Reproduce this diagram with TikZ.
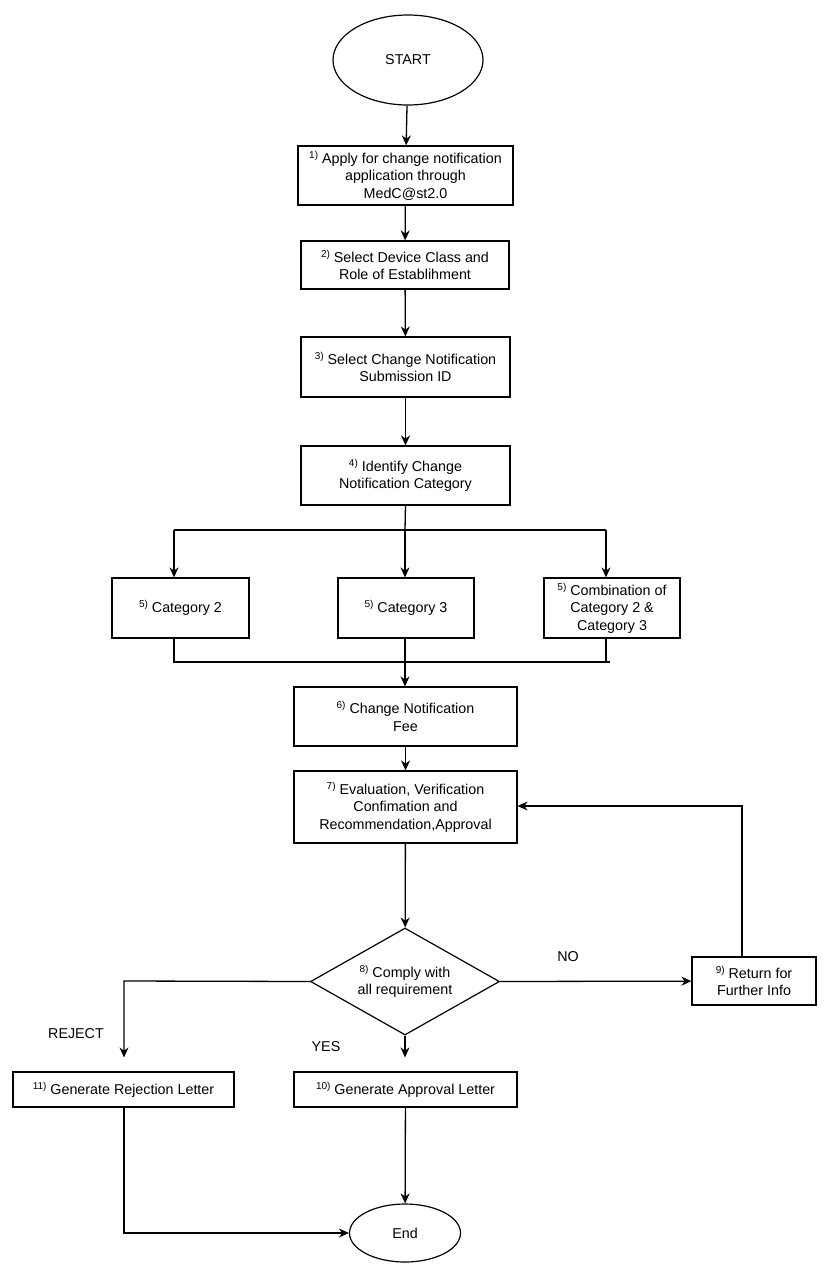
\documentclass[tikz,border=0pt]{standalone}
\usepackage{fontspec}
\setmainfont{Liberation Sans}
\usetikzlibrary{arrows.meta, positioning, shapes.geometric, calc}
\newcommand{\stepno}[1]{\raisebox{5pt}{\fontsize{10}{10}\selectfont #1)}~}

\begin{document}
\begin{tikzpicture}[
        x=1pt, y=-1pt,
        every node/.style={font=\fontsize{14.3}{17.5}\selectfont},
        proc/.style={rectangle, draw, line width=1.2pt, align=center,
                     inner sep=2pt},
        term/.style={ellipse, draw, line width=1.2pt, inner sep=0pt},
        decide/.style={diamond, draw, line width=1.2pt, align=center,
                       inner sep=0pt, aspect=1.77},
        lbl/.style={inner sep=0pt},
        link/.style={line width=1.3pt},
        arr/.style={link, -{Stealth[length=10pt, width=9pt]}},
      ]
        \useasboundingbox (0,0) rectangle (829,1277);

        \node[term, minimum width=150pt, minimum height=90pt] (start) at (408,60) {START};
        \node[proc, minimum width=215pt, minimum height=59pt] (b1) at (405.5,175.5)
          {\stepno{1}Apply for change notification\\application through\\MedC@st2.0};
        \node[proc, minimum width=208pt, minimum height=48pt] (b2) at (405,265)
          {\stepno{2}Select Device Class and\\Role of Establihment};
        \node[proc, minimum width=209pt, minimum height=60pt] (b3) at (405.5,367)
          {\stepno{3}Select Change Notification\\Submission ID};
        \node[proc, minimum width=209pt, minimum height=59pt] (b4) at (405.5,475.5)
          {\stepno{4}Identify Change\\Notification Category};

        \node[proc, minimum width=137pt, minimum height=60pt] (cat2) at (180.5,608)
          {\stepno{5}Category 2};
        \node[proc, minimum width=136pt, minimum height=60pt] (cat3) at (406,608)
          {\stepno{5}Category 3};
        \node[proc, minimum width=136pt, minimum height=60pt] (comb) at (612,608)
          {\stepno{5}Combination of\\Category 2 \&\\Category 3};

        \node[proc, minimum width=223pt, minimum height=59pt] (b6) at (405.5,716.5)
          {\stepno{6}Change Notification\\Fee};
        \node[proc, minimum width=223pt, minimum height=72pt] (b7) at (405.5,807)
          {\stepno{7}Evaluation, Verification\\Confimation and\\Recommendation,Approval};
        \node[decide, minimum width=189pt, minimum height=107pt] (dec) at (405,981.5)
          {\stepno{8}Comply with\\all requirement};
        \node[proc, minimum width=124pt, minimum height=48pt] (b9) at (754,981)
          {\stepno{9}Return for\\Further Info};
        \node[proc, minimum width=221pt, minimum height=35pt] (b11) at (123.5,1089.5)
          {\stepno{11}Generate Rejection Letter};
        \node[proc, minimum width=223pt, minimum height=35pt] (b10) at (405.5,1089.5)
          {\stepno{10}Generate Approval Letter};
        \node[term, minimum width=111pt, minimum height=58pt] (end) at (405,1233) {End};

        \node[lbl] (no)     at (568,957)  {NO};
        \node[lbl] (yes)    at (326,1047) {YES};
        \node[lbl] (reject) at (76,1034)  {REJECT};

        % branch points
        \coordinate (split)  at (405,530);
        \coordinate (splitL) at (174,530);
        \coordinate (splitR) at (606,530);
        \coordinate (joinL)  at (174,662);
        \coordinate (joinR)  at (610,662);
        \coordinate (ret)    at (742,806);
        \coordinate (rej)    at (124,981);

        \draw[arr] (start) -- (b1);
        \draw[arr] (b1) -- (b2);
        \draw[arr] (b2) -- (b3);
        \draw[arr] (b3) -- (b4);

        \draw[link] (b4.south) -- (split);
        \draw[link] (splitL) -- (splitR);
        \draw[arr] (splitL) -- (splitL |- cat2.north);
        \draw[arr] (split) -- (split |- cat3.north);
        \draw[arr] (splitR) -- (splitR |- comb.north);

        \draw[link] (joinL |- cat2.south) -- (joinL) -- (joinR);
        \draw[link] (splitR |- comb.south) -- (splitR |- joinR);
        \draw[arr] (cat3.south -| split) -- (split |- b6.north);

        \draw[arr] (b6) -- (b7);
        \draw[arr] (b7) -- (dec);
        \draw[arr] (dec.east) -- (b9);
        \draw[arr] (ret |- b9.north) -- (ret) -- (b7.east |- ret);
        \draw[arr, shorten >=14pt] (dec.west) -- (rej) -- (rej |- b11.north);
        \draw[arr, shorten >=14pt] (dec.south) -- (dec.south |- b10.north);

        \draw[arr] (b10) -- (end);
        \draw[arr] (b11.south -| rej) |- (end);
      \end{tikzpicture}
\end{document}
